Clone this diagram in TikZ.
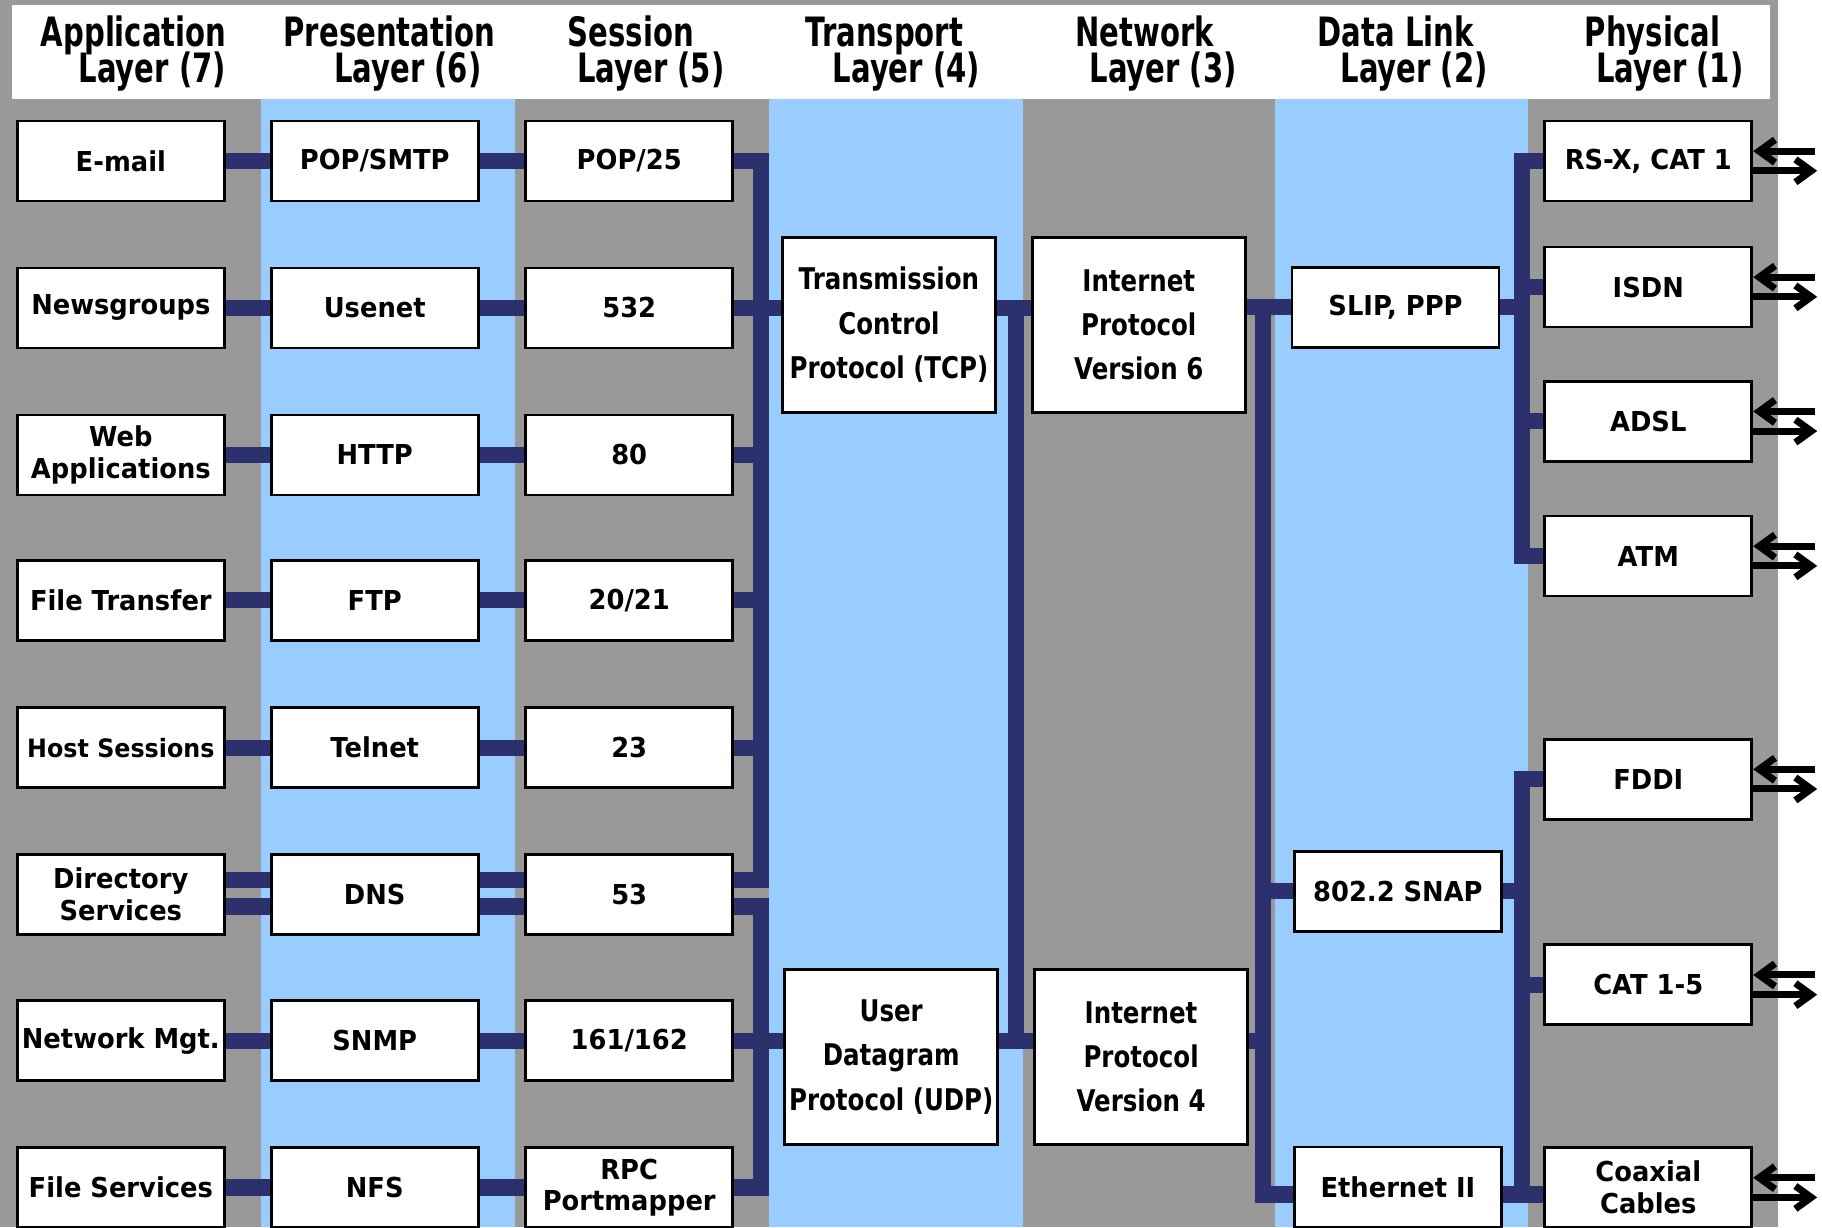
\documentclass[tikz,border=0pt]{standalone}
\usepackage{fontspec}
\setmainfont{DejaVu Sans}
\newfontfamily\hdrfont{DejaVu Sans}[FakeStretch=0.72]
\newfontfamily\boxfont{DejaVu Sans}[FakeStretch=0.94]
\newfontfamily\bigfont{DejaVu Sans}[FakeStretch=0.82]
\usetikzlibrary{arrows.meta}
\definecolor{laygray}{RGB}{153,153,153}
\definecolor{layblue}{RGB}{153,204,255}
\definecolor{linkblue}{RGB}{44,48,108}
\tikzset{
  sbox/.style={draw, line width=0.8pt, fill=white, minimum width=20.7mm, minimum height=8mm,
    inner sep=1pt, align=center, font=\boxfont\bfseries\fontsize{7.8}{9}\selectfont},
  bbox/.style={sbox, minimum width=21.3mm, minimum height=17.5mm,
    font=\bigfont\bfseries\fontsize{8.5}{12.6}\selectfont},
  link/.style={draw=linkblue, line width=4.6pt},
  io/.style={line width=2pt, -{Straight Barb[length=4.5pt,width=6.5pt]}},
  hdr/.style={font=\hdrfont\bfseries\fontsize{11.5}{12}\selectfont, inner sep=0pt, anchor=base},
}
\begin{document}
\begin{tikzpicture}[x=0.1162mm, y=-0.1162mm]
\useasboundingbox (0,0) rectangle (1568,1056);
\clip (0,0) rectangle (1568,1056);
% layer bands
\fill[white] (0,0) rectangle (1568,1056);
\fill[laygray] (0,0) rectangle (1530,1056);
\foreach \x in {225,662,1097}
  \fill[layblue] (\x,85) rectangle ++(218,971);
\fill[white] (10,4) rectangle (1523,85);

% header
\foreach \xa/\xb/\nm/\n in {115/131/Application/7, 335/351/Presentation/6, 543/560/Session/5,
    761/780/Transport/4, 985/1001/Network/3, 1201/1217/Data Link/2, 1422/1437/Physical/1} {
  \node[hdr] (hdr\n) at (\xa,40) {\nm};
  \node[hdr] (lyr\n) at (\xb,71) {Layer (\n)};
}

% application layer
\node[sbox] (app1) at (104,138.5) {E-mail};
\node[sbox] (app2) at (104,265) {Newsgroups};
\node[sbox] (app3) at (104,391.5) {Web\\Applications};
\node[sbox] (app4) at (104,516.5) {File Transfer};
\node[sbox, font=\boxfont\bfseries\fontsize{7.2}{9}\selectfont] (app5) at (104,643.5) {Host Sessions};
\node[sbox] (app6) at (104,769.5) {Directory\\Services};
\node[sbox] (app7) at (104,895.5) {Network Mgt.};
\node[sbox] (app8) at (104,1022) {File Services};
% presentation layer
\node[sbox] (pre1) at (322.5,138.5) {POP/SMTP};
\node[sbox] (pre2) at (322.5,265) {Usenet};
\node[sbox] (pre3) at (322.5,391.5) {HTTP};
\node[sbox] (pre4) at (322.5,516.5) {FTP};
\node[sbox] (pre5) at (322.5,643.5) {Telnet};
\node[sbox] (pre6) at (322.5,769.5) {DNS};
\node[sbox] (pre7) at (322.5,895.5) {SNMP};
\node[sbox] (pre8) at (322.5,1022) {NFS};
% session layer
\node[sbox] (ses1) at (541.5,138.5) {POP/25};
\node[sbox] (ses2) at (541.5,265) {532};
\node[sbox] (ses3) at (541.5,391.5) {80};
\node[sbox] (ses4) at (541.5,516.5) {20/21};
\node[sbox] (ses5) at (541.5,643.5) {23};
\node[sbox] (ses6) at (541.5,769.5) {53};
\node[sbox] (ses7) at (541.5,895.5) {161/162};
\node[sbox] (ses8) at (541.5,1022) {RPC\\Portmapper};
% transport and network
\node[bbox] (tcp) at (765,279.5) {Transmission\\Control\\Protocol (TCP)};
\node[bbox] (udp) at (767,909.5) {User\\Datagram\\Protocol (UDP)};
\node[bbox] (ipsix) at (980,279.5) {Internet\\Protocol\\Version 6};
\node[bbox] (ipfour) at (982,909.5) {Internet\\Protocol\\Version 4};
% data link
\node[sbox] (slip) at (1201,264.5) {SLIP, PPP};
\node[sbox] (snap) at (1203,767) {802.2 SNAP};
\node[sbox] (ether) at (1203,1021.5) {Ethernet II};
% physical
\node[sbox] (rsx) at (1418.5,138.5) {RS-X, CAT 1};
\node[sbox] (isdn) at (1418.5,247) {ISDN};
\node[sbox] (adsl) at (1418.5,362.5) {ADSL};
\node[sbox] (atm) at (1418.5,478.5) {ATM};
\node[sbox] (fddi) at (1418.5,670.5) {FDDI};
\node[sbox] (cat) at (1418.5,847.5) {CAT 1-5};
\node[sbox] (coax) at (1418.5,1022) {Coaxial\\Cables};

% bus positions
\coordinate (sbus) at (655,0);
\coordinate (nbus) at (874,0);
\coordinate (dbus) at (1087,0);
\coordinate (pbus) at (1310,0);
\coordinate (dbot) at (1087,1028);
\coordinate (s53a) at ([yshift=4.1pt]ses6.east);
\coordinate (s53b) at ([yshift=-3.5pt]ses6.east);

% rows
\foreach \i in {1,2,3,4,5,7,8} {
  \draw[link] (app\i) -- (pre\i);
  \draw[link] (pre\i) -- (ses\i);
}
\draw[link] ([yshift=4.1pt]app6.east) -- ([yshift=4.1pt]pre6.west);
\draw[link] ([yshift=-3.5pt]app6.east) -- ([yshift=-3.5pt]pre6.west);
\draw[link] ([yshift=4.1pt]pre6.east) -- (s53a -| ses6.west);
\draw[link] ([yshift=-3.5pt]pre6.east) -- (s53b -| ses6.west);

% session to transport
\draw[link] (ses1.east) -| (sbus |- s53a) -- (s53a);
\draw[link] (s53b) -| (sbus |- ses8.east) -- (ses8.east);
\foreach \i in {3,4,5}
  \draw[link] (ses\i.east) -- (ses\i.east -| sbus);
\draw[link] (ses2.east) -- (ses2.east -| tcp.west);
\draw[link] (ses7.east) -- (ses7.east -| udp.west);

% transport to network
\draw[link] (tcp.east |- ses2.east) -- (ipsix.west |- ses2.east);
\draw[link] (udp.east |- ses7.east) -- (ipfour.west |- ses7.east);
\draw[link] (nbus |- ses2.east) -- (nbus |- ses7.east);

% network to data link
\draw[link] (ipsix.east |- slip.west) -- (slip.west);
\draw[link] (dbus |- slip.west) -- (dbot) -- (ether.west |- dbot);
\draw[link] (ipfour.east |- ses7.east) -- (dbus |- ses7.east);
\draw[link] (snap.west) -- (snap.west -| dbus);

% data link to physical
\draw[link] (rsx.west) -| (pbus |- atm.west) -- (atm.west);
\draw[link] (isdn.west) -- (isdn.west -| pbus);
\draw[link] (adsl.west) -- (adsl.west -| pbus);
\draw[link] (slip.east) -- (slip.east -| pbus);
\draw[link] (fddi.west) -| (pbus |- dbot);
\draw[link] (ether.east |- dbot) -- (coax.west |- dbot);
\draw[link] (snap.east) -- (snap.east -| pbus);
\draw[link] (cat.west) -- (cat.west -| pbus);

% line in / line out
\foreach \n in {rsx,isdn,adsl,atm,fddi,cat,coax} {
  \coordinate (\n-rx) at ([xshift=6.2mm,yshift=2.8pt]\n.east);
  \coordinate (\n-tx) at ([xshift=6.4mm,yshift=-2.8pt]\n.east);
  \draw[io] (\n-rx) -- ([yshift=2.8pt]\n.east);
  \draw[io] ([yshift=-2.8pt]\n.east) -- (\n-tx);
}
\end{tikzpicture}
\end{document}
